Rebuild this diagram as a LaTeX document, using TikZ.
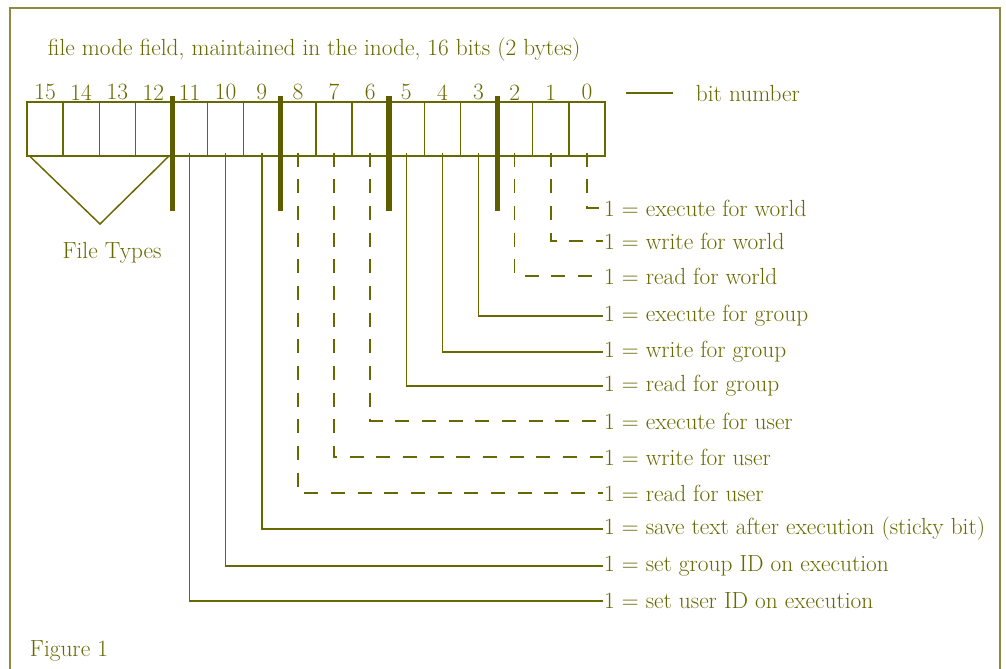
\documentclass[tikz,border=0pt]{standalone}
\usetikzlibrary{calc}
\definecolor{olivetext}{RGB}{104,104,0}
\definecolor{oliveframe}{RGB}{140,140,64}

\begin{document}
\begin{tikzpicture}[x=0.75pt, y=-0.75pt, thick,
    every node/.style={text=olivetext, font=\fontsize{17.5}{20}\selectfont},
    cell/.style={draw=olivetext, line width=1.1pt, minimum width=27.1pt, minimum height=40.5pt, inner sep=0pt},
    bitnum/.style={anchor=south, inner sep=0.5pt},
    bar/.style={draw=olivetext!90!black, line width=4pt},
    lead/.style={draw=olivetext, line width=1.1pt},
    dashlead/.style={lead, dash pattern=on 10.5pt off 9.5pt},
    frame/.style={draw=oliveframe, line width=1.8pt},
    meaning/.style={anchor=west, inner xsep=0.5pt}]
    \clip (0,0) rectangle (1006,668);
    % Frame round the figure
    \draw[frame] (10,690) -- (10,8) -- (1000,8) -- (1000,690);
    \node[anchor=west] (title) at (43,50) {file mode field, maintained in the inode, 16 bits (2 bytes)};
    % Cells of the mode field
    \foreach \i in {0,...,15} {
        \pgfmathsetmacro\cx{27+(15.5-\i)*36.125}
        \node[cell] (b\i) at (\cx,129) {};
        \node[bitnum] (n\i) at (b\i.north) {\i};
    }
    \node[anchor=west] (bitnumber) at (691,93) {bit number};
    \draw[lead] ($(bitnumber.west)+(-65,0)$) -- ($(bitnumber.west)+(-18,0)$);
    % Group separators
    \foreach \j in {12,9,6,3}
        \draw[bar] ($(b\j.north east)+(0,-5)$) -- ($(b\j.south east)+(0,54)$);
    % File types
    \coordinate (apex) at (100,224);
    \draw[lead] ($(b15.south west)+(4,0)$) -- (apex) -- ($(b12.south east)+(-4,0)$);
    \node (types) at (112,253) {File Types};
    % Meaning of each bit
    \foreach \i/\y/\txt/\sty in {0/208/{execute for world}/dashlead,
                                  1/241/{write for world}/dashlead,
                                  2/276/{read for world}/dashlead,
                                  3/316/{execute for group}/lead,
                                  4/352/{write for group}/lead,
                                  5/386/{read for group}/lead,
                                  6/421/{execute for user}/dashlead,
                                  7/457/{write for user}/dashlead,
                                  8/493/{read for user}/dashlead,
                                  9/529/{save text after execution (sticky bit)}/lead,
                                  10/566/{set group ID on execution}/lead,
                                  11/601/{set user ID on execution}/lead} {
        \node[meaning] (m\i) at (603,\y) {1 = \txt};
        \draw[\sty] ($(b\i.south)+(0,-4)$) |- (m\i.west);
    }
    \node[anchor=west] (caption) at (25,651) {Figure 1};
\end{tikzpicture}
\end{document}
